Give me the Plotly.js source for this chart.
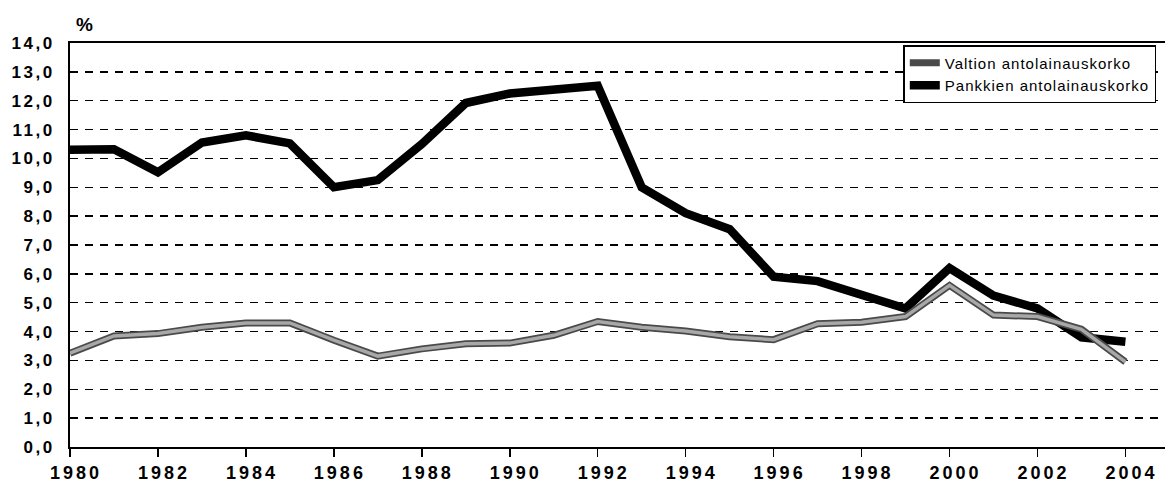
<!DOCTYPE html>
<html>
<head>
<meta charset="utf-8">
<script src="https://cdn.plot.ly/plotly-3.0.1.min.js"></script>
<style>
  html, body { margin: 0; padding: 0; background: #fff; }
  #chart { width: 1168px; height: 486px; }
  .xtick text { letter-spacing: 3px; }
  .ytick text { letter-spacing: 2.5px; }
  .legendtext { letter-spacing: 1px; }
</style>
</head>
<body>
<div id="chart"></div>
<script>
// Years
const years = [1980, 1981, 1982, 1983, 1984, 1985, 1986, 1987, 1988, 1989,
               1990, 1991, 1992, 1993, 1994, 1995, 1996, 1997, 1998, 1999,
               2000, 2001, 2002, 2003, 2004];
// Valtion antolainauskorko (%)
const valtion = [3.25, 3.85, 3.93, 4.15, 4.3, 4.3, 3.7, 3.15, 3.4, 3.58,
                 3.6, 3.87, 4.35, 4.15, 4.02, 3.82, 3.72, 4.27, 4.32, 4.52,
                 5.6, 4.57, 4.52, 4.08, 2.95];
// Pankkien antolainauskorko (%)
const pankkien = [10.3, 10.32, 9.52, 10.55, 10.8, 10.52, 9.0, 9.25, 10.5, 11.92,
                  12.25, 12.35, 12.52, 9.0, 8.1, 7.55, 5.9, 5.75, 5.27, 4.8,
                  6.2, 5.25, 4.8, 3.8, 3.65];
const seriesNames = ["Valtion antolainauskorko", "Pankkien antolainauskorko"];
const unitLabel = "%";

const traces = [
  {
    x: years, y: pankkien, type: "scatter", mode: "lines",
    name: seriesNames[1], legendrank: 2,
    line: { color: "#000000", width: 8.5 },
    hoverinfo: "skip"
  },
  {
    x: years, y: valtion, type: "scatter", mode: "lines",
    name: seriesNames[0], legendrank: 1, legendgroup: "v",
    line: { color: "#4a4a4a", width: 7 },
    hoverinfo: "skip"
  },
  {
    x: years, y: valtion, type: "scatter", mode: "lines",
    name: seriesNames[0], showlegend: false, legendgroup: "v",
    line: { color: "#a8a8a8", width: 3.5 },
    hoverinfo: "skip"
  }
];

const layout = {
  width: 1168, height: 486,
  margin: { l: 70, r: 3, t: 43, b: 39 },
  paper_bgcolor: "#ffffff", plot_bgcolor: "#ffffff",
  separators: ",.",
  showlegend: true,
  font: { family: "Liberation Sans, Arial, sans-serif", color: "#000" },
  xaxis: {
    range: [1980, 2004.9],
    tick0: 1980, dtick: 2,
    showgrid: false, zeroline: false,
    showline: true, linecolor: "#000", linewidth: 2, mirror: true,
    ticks: "outside", ticklen: 8, tickwidth: 1.5, tickcolor: "#000",
    ticklabelshift: 6,
    tickfont: { family: "Liberation Sans, Arial, sans-serif", size: 18, color: "#000", weight: "bold" }
  },
  yaxis: {
    range: [0, 14], dtick: 1, tick0: 0,
    tickformat: ".1f",
    showgrid: true, gridcolor: "#000", gridwidth: 1.5, griddash: "8px,7px",
    zeroline: false,
    showline: true, linecolor: "#000", linewidth: 2,
    ticks: "", ticklabelstandoff: 10,
    tickfont: { family: "Liberation Sans, Arial, sans-serif", size: 17, color: "#000", weight: "bold" }
  },
  legend: {
    x: 0.761, y: 0.995, xanchor: "left", yanchor: "top",
    bgcolor: "#ffffff", bordercolor: "#000", borderwidth: 1.5,
    font: { family: "Liberation Sans, Arial, sans-serif", size: 15, color: "#000" },
    tracegroupgap: 0
  },
  annotations: [
    {
      text: unitLabel, xref: "paper", yref: "paper",
      x: 0.0, y: 1.0, xanchor: "left", yanchor: "bottom", yshift: 6, xshift: 4,
      showarrow: false,
      font: { family: "Liberation Sans, Arial, sans-serif", size: 19, color: "#000", weight: "bold" }
    }
  ]
};

Plotly.newPlot("chart", traces, layout, { displayModeBar: false, staticPlot: true });
</script>
</body>
</html>
